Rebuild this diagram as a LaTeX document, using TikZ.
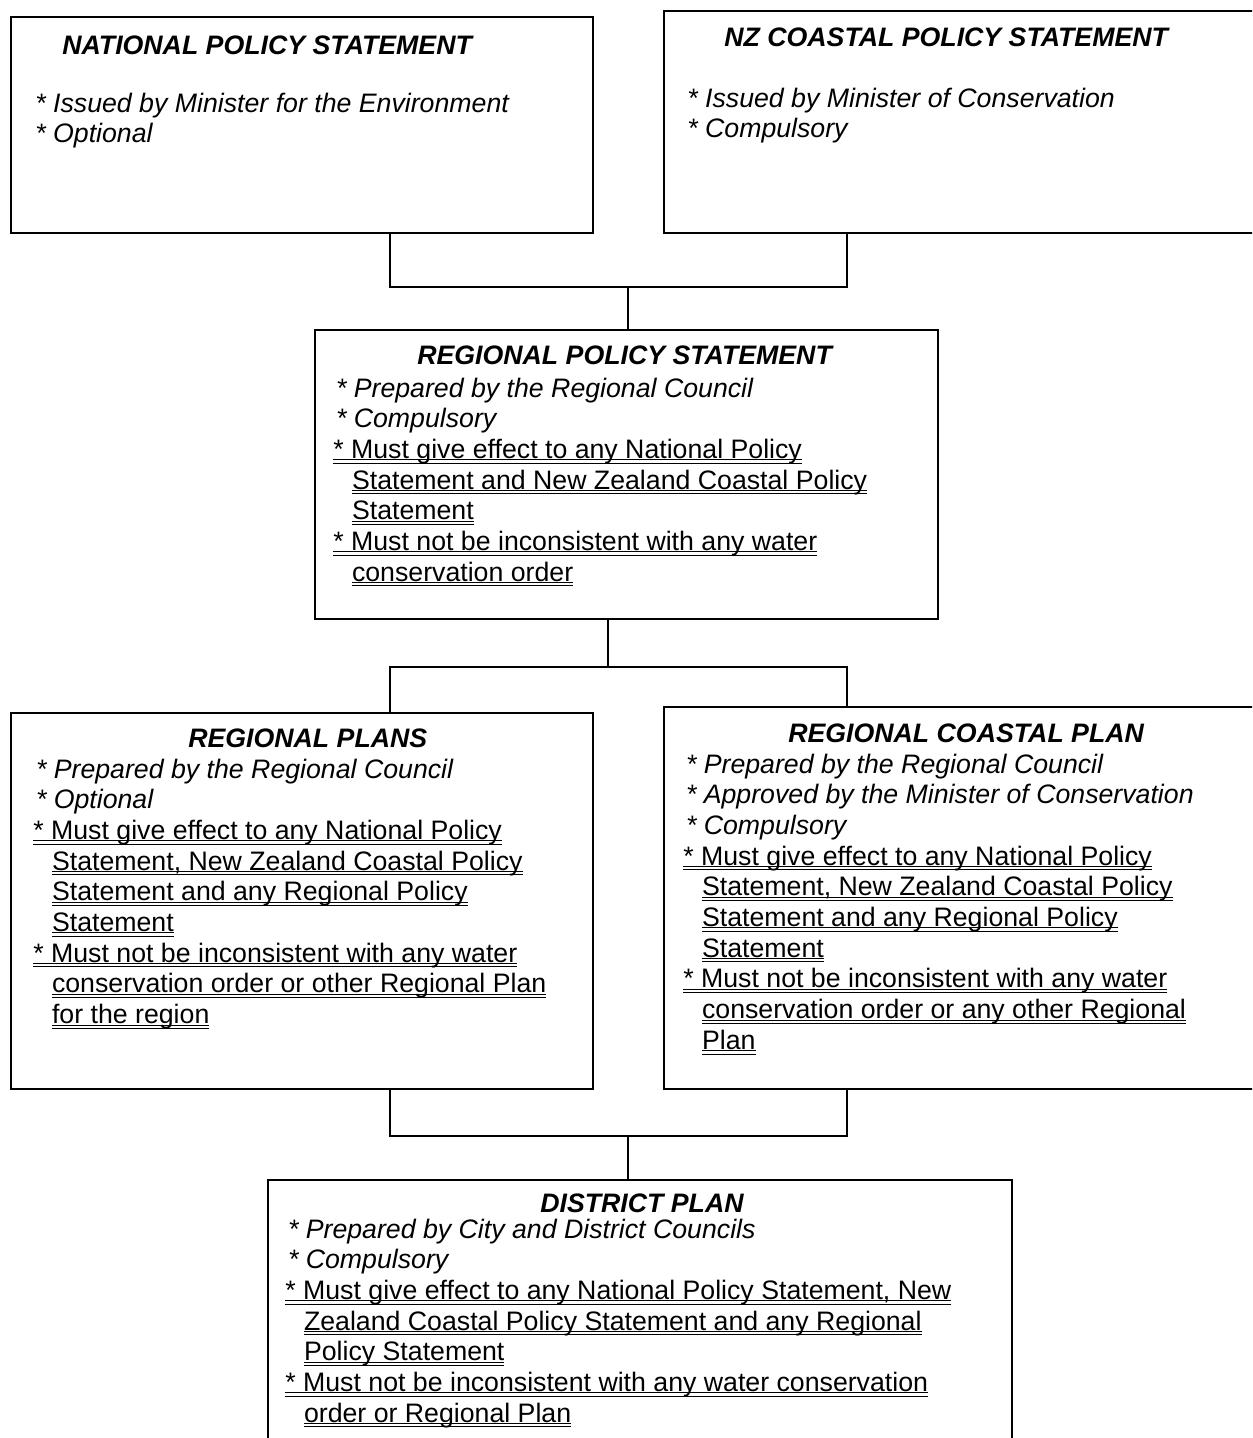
\documentclass[tikz,border=0pt]{standalone}
\usepackage{fontspec}
\setmainfont{Liberation Sans}
\newcommand\docfont{\fontsize{15.2pt}{17.47pt}\selectfont}
\newsavebox\ulbox
% double underline, as in the original statement
\newcommand\dul[1]{\leavevmode\sbox\ulbox{#1}\rlap{\rule[-1.1pt]{\wd\ulbox}{0.55pt}}\rlap{\rule[-3pt]{\wd\ulbox}{0.55pt}}\usebox\ulbox}
\newcommand\ind{\hspace*{0.7em}}
\newcommand\itm[1]{\hspace*{0.1em}\textit{#1}}
\newcommand\lines[1]{\parbox[t]{15cm}{\raggedright #1}}
\begin{document}
\begin{tikzpicture}[x=0.02cm,y=-0.02cm]
    \tikzset{box/.style={draw,line width=1.1pt,inner sep=0pt,anchor=north west},
      link/.style={line width=1.1pt},
      head/.style={anchor=base west,inner sep=0pt,font=\docfont\bfseries\itshape},
      body/.style={anchor=base west,inner sep=0pt,font=\docfont}}
    \useasboundingbox (0,0) rectangle (1252,1438);
    \clip (0,0) rectangle (1252,1438);

    % boxes
    \node[box,minimum width=11.64cm,minimum height=4.32cm] (nps) at (10,16) {};
    \node[box,minimum width=12.6cm,minimum height=4.44cm] (nzcps) at (663,10) {};
    \node[box,minimum width=12.46cm,minimum height=5.78cm] (rps) at (314,329) {};
    \node[box,minimum width=11.64cm,minimum height=7.52cm] (rp) at (10,712) {};
    \node[box,minimum width=12.6cm,minimum height=7.64cm] (rcp) at (663,706) {};
    \node[box,minimum width=14.88cm,minimum height=5.6cm] (dp) at (267,1179) {};

    % titles
    \node[head] (npsT) at (62,54) {NATIONAL POLICY STATEMENT};
    \node[head] (nzcpsT) at (724,46) {NZ COASTAL POLICY STATEMENT};
    \node[head] (rpsT) at (417,364) {REGIONAL POLICY STATEMENT};
    \node[head] (rpT) at (188,747) {REGIONAL PLANS};
    \node[head] (rcpT) at (788,742) {REGIONAL COASTAL PLAN};
    \node[head] (dpT) at (540,1212) {DISTRICT PLAN};

    % texts
    \node[body] (npsB) at (35,112) {\lines{\textit{* Issued by Minister for the Environment}\\
        \textit{* Optional}}};
    \node[body] (nzcpsB) at (687,107) {\lines{\textit{* Issued by Minister of Conservation}\\
        \textit{* Compulsory}}};
    \node[body] (rpsB) at (333,397) {\lines{\itm{* Prepared by the Regional Council}\\
        \itm{* Compulsory}\\
        \dul{* Must give effect to any National Policy}\\
        \ind\dul{Statement and New Zealand Coastal Policy}\\
        \ind\dul{Statement}\\
        \dul{* Must not be inconsistent with any water}\\
        \ind\dul{conservation order}}};
    \node[body] (rpB) at (33,778) {\lines{\itm{* Prepared by the Regional Council}\\
        \itm{* Optional}\\
        \dul{* Must give effect to any National Policy}\\
        \ind\dul{Statement, New Zealand Coastal Policy}\\
        \ind\dul{Statement and any Regional Policy}\\
        \ind\dul{Statement}\\
        \dul{* Must not be inconsistent with any water}\\
        \ind\dul{conservation order or other Regional Plan}\\
        \ind\dul{for the region}}};
    \node[body] (rcpB) at (683,773) {\lines{\itm{* Prepared by the Regional Council}\\
        \itm{* Approved by the Minister of Conservation}\\
        \itm{* Compulsory}\\
        \dul{* Must give effect to any National Policy}\\
        \ind\dul{Statement, New Zealand Coastal Policy}\\
        \ind\dul{Statement and any Regional Policy}\\
        \ind\dul{Statement}\\
        \dul{* Must not be inconsistent with any water}\\
        \ind\dul{conservation order or any other Regional}\\
        \ind\dul{Plan}}};
    \node[body] (dpB) at (285,1238) {\lines{\itm{* Prepared by City and District Councils}\\
        \itm{* Compulsory}\\
        \dul{* Must give effect to any National Policy Statement, New}\\
        \ind\dul{Zealand Coastal Policy Statement and any Regional}\\
        \ind\dul{Policy Statement}\\
        \dul{* Must not be inconsistent with any water conservation}\\
        \ind\dul{order or Regional Plan}}};

    % connectors
    \coordinate (a1) at (390,287);
    \coordinate (b1) at (847,287);
    \coordinate (m1) at (628,287);
    \draw[link] (a1 |- nps.south) -- (a1) -- (b1) -- (b1 |- nzcps.south);
    \draw[link] (m1) -- (m1 |- rps.north);

    \coordinate (a2) at (390,667);
    \coordinate (b2) at (847,667);
    \coordinate (m2) at (608,667);
    \draw[link] (m2 |- rps.south) -- (m2);
    \draw[link] (a2 |- rp.north) -- (a2) -- (b2) -- (b2 |- rcp.north);

    \coordinate (a3) at (390,1136);
    \coordinate (b3) at (847,1136);
    \coordinate (m3) at (628,1136);
    \draw[link] (a3 |- rp.south) -- (a3) -- (b3) -- (b3 |- rcp.south);
    \draw[link] (m3) -- (m3 |- dp.north);
\end{tikzpicture}
\end{document}
